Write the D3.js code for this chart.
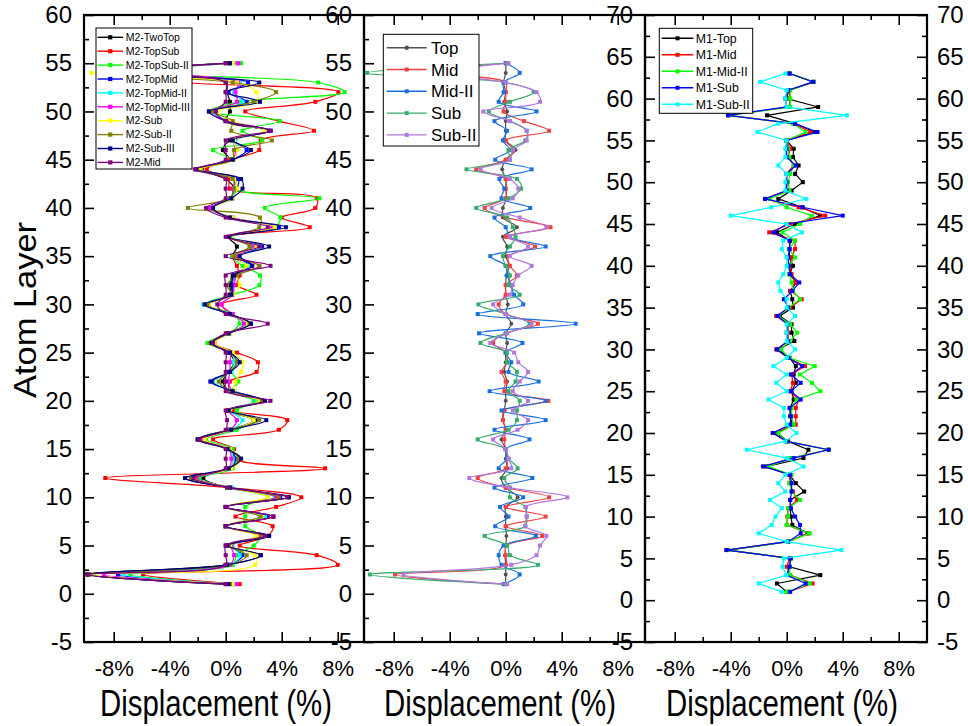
<!DOCTYPE html>
<html><head><meta charset="utf-8">
<script src="https://cdn.jsdelivr.net/npm/d3@7"></script>
<style>
body{margin:0;background:#fff}
text{font-family:"Liberation Sans",Arial,sans-serif}
</style>
</head><body>
<svg id="c" width="968" height="726"></svg>
<script>
// ---------- DATA ----------
const layersA = d3.range(1, 56);   // panels 1 & 2: atom layers 1..55
const layersB = d3.range(1, 64);   // panel 3: atom layers 1..63

const p1Names = ["M2-TwoTop","M2-TopSub","M2-TopSub-II","M2-TopMid","M2-TopMid-II","M2-TopMid-III","M2-Sub","M2-Sub-II","M2-Sub-III","M2-Mid"];
const p1TwoTop = [0.0,-9.8,0.0,2.5,0.0,3.1,0.0,2.5,0.0,4.5, 0.1,-1.6,0.1,1.0,0.1,-2.0,0.2,2.2,0.1,2.6, 0.3,-0.2,0.2,0.6,0.2,-1.1,0.1,1.8,0.2,-1.2, 0.3,0.3,0.5,1.6,0.5,0.8,0.2,3.6,0.3,-1.0, 0.3,0.6,0.0,-1.7,0.3,-0.2,0.3,3.0,0.0,0.3, 0.3,0.1,0.0,-8.5,0.0];
const p1TopSub = [1.0,-5.9,8.0,6.5,1.0,3.0,3.35,0.7,3.6,5.4, 0.3,-8.6,7.1,0.6,0.6,-0.9,3.8,4.4,0.5,2.5, 0.3,0.3,2.2,2.3,0.8,-0.8,0.2,1.5,0.4,-0.3, 2.2,0.8,1.0,0.8,0.5,1.9,0.2,6.0,4.0,6.4, 6.5,0.3,0.2,-1.35,0.3,2.4,2.5,6.3,3.8,1.4, 6.4,8.05,-3.0,-8.5,0.8];
const p1TopSubII = [0.7,-6.8,0.5,0.8,2.0,2.5,1.4,1.4,1.4,3.0, 0.2,-1.9,0.5,0.6,0.5,-1.4,0.8,2.0,0.8,2.0, 0.4,0.9,0.4,0.6,0.4,-1.3,0.2,1.0,0.5,-1.5, 0.5,2.4,2.45,1.2,0.5,1.8,0.4,3.5,3.9,2.8, 6.7,0.6,0.8,-2.0,0.5,-0.9,2.6,1.2,3.85,-1.2, 1.0,8.5,6.6,-8.5,1.1];
const p1TopMid = [0.5,-7.7,0.2,1.2,0.3,2.6,0.0,3.0,0.0,3.9, 0.4,-2.9,0.3,0.7,0.2,-1.8,0.3,2.0,0.2,2.6, 0.6,-1.1,0.3,0.8,0.3,-1.0,0.2,1.5,0.3,-1.4, 0.4,0.5,0.6,1.8,0.7,2.6,0.3,3.8,0.4,-1.1, 0.5,0.8,0.9,-1.9,0.5,1.5,0.6,3.0,0.2,-0.9, 1.5,0.2,1.6,-8.5,0.3];
const p1TopMidII = [0.7,-7.3,0.3,1.0,0.5,2.5,0.1,2.8,0.1,3.5, 0.4,-2.2,0.3,0.5,0.3,-1.6,0.4,1.2,0.3,2.2, 0.6,-0.9,0.4,0.6,0.4,-1.0,0.3,1.5,0.4,-1.6, 0.5,0.6,0.7,1.6,0.6,2.4,0.4,3.5,0.5,-1.0, 0.5,0.6,0.5,-1.9,0.6,0.8,0.7,2.8,0.3,-1.0, 1.2,0.6,1.0,-8.5,0.8];
const p1TopMidIII = [0.8,-8.7,0.3,0.6,0.4,2.5,0.0,3.4,0.1,3.6, 0.3,-2.1,0.2,0.4,0.2,-1.7,0.3,0.8,0.2,2.5, 0.5,0.2,0.3,0.3,0.3,-1.0,0.3,1.3,0.5,-0.3, 0.5,0.6,0.8,2.4,0.8,2.0,0.4,3.3,0.5,-1.1, 0.4,0.5,0.6,-2.0,0.5,0.7,0.6,3.2,0.2,-1.2, 0.8,0.7,0.9,-8.5,0.9];
const p1Sub = [0.5,-9.5,2.1,2.1,0.3,2.2,0.0,2.6,0.0,3.0, 0.3,-2.3,0.4,1.1,0.3,-1.5,0.4,2.0,0.3,2.4, 0.6,0.7,1.1,1.2,0.5,-0.8,0.3,1.6,0.3,-1.2, 0.5,1.0,0.8,1.5,0.6,2.2,0.4,3.5,0.5,-0.9, 0.5,0.8,0.6,-1.8,0.6,0.8,0.6,2.8,0.4,-0.6, 2.2,2.2,0.8,-9.6,0.5];
const p1SubII = [0.3,-9.7,0.2,1.5,0.2,2.6,0.0,2.5,0.0,3.8, 0.3,-2.5,0.2,0.9,0.2,-1.9,0.3,2.4,0.2,2.6, 0.4,-0.5,0.3,0.8,0.3,-1.1,0.2,1.7,0.3,-1.3, 0.4,0.1,0.8,2.4,0.6,1.7,0.3,2.4,2.45,-2.7, 0.3,0.6,0.5,-2.1,0.5,0.6,3.3,0.4,0.5,-1.0, 2.0,3.6,0.5,-8.5,0.3];
const p1SubIII = [0.2,-9.9,0.1,2.5,0.1,3.1,0.0,3.4,0.0,4.5, 0.3,-2.9,0.2,1.1,0.1,-2.0,0.4,2.9,0.2,2.8, 0.5,-1.0,0.3,1.0,0.3,-1.0,0.2,1.8,0.3,-1.5, 0.4,0.4,0.6,1.9,1.0,3.1,0.2,4.3,0.3,-0.9, 0.4,1.2,1.1,-2.1,0.5,1.8,0.5,3.2,0.0,-1.2, 2.45,0.0,2.4,-8.5,0.3];
const p1Mid = [0.0,-9.9,0.0,0.0,0.0,2.8,0.0,3.4,0.0,4.4, 0.2,-2.3,0.0,0.0,0.0,-1.9,0.0,0.1,0.0,3.2, 0.0,0.0,0.0,0.0,0.0,-0.9,0.0,3.0,0.0,-0.6, 0.0,0.0,0.0,3.2,0.0,2.4,0.0,3.0,0.0,-1.4, 0.0,0.0,0.0,-2.2,0.0,0.0,0.0,3.2,0.0,-0.7, 0.0,0.0,0.0,-8.5,0.0];

const p2Names = ["Top","Mid","Mid-II","Sub","Sub-II"];
const p2Top = [0,0,0,-0.05,0,0.05,0,0,0,0.85, 0,-0.3,0.1,0,0,-0.3,0,-0.2,-0.1,0, 0,0.1,-0.1,0,0,0.1,0,0.4,0,0.15, 0,0,0.05,0.25,0,0.1,-0.2,0.8,-0.2,-0.2, 0.05,0,0,-0.25,0,0.7,0,0,0,0.1, -0.1,0,-0.15,0,0];
const p2Mid = [0,-7.9,0,0,0.05,2.6,0,2.85,0,3.1, 0,-2.0,0,0.1,0,-0.1,0,-0.2,-0.1,3.05, -0.1,0,-0.3,0.1,0,-0.9,0,2.3,0,-0.5, 0,0,0.8,0.3,0.2,2.1,0,3.2,0,-1.5, 0,0,0,-2.1,0,0.55,0,3.1,1.3,-0.15, 0,0,0,-5.0,0];
const p2MidII = [-0.15,1.0,-0.3,-0.5,-0.15,2.15,-0.75,0.2,-0.4,1.25, -0.8,1.9,-0.5,0.1,0,1.7,-0.8,2.85,-0.3,2.85, -1.15,2.35,0.2,0.4,0,1.2,-1.9,5.0,-2.0,1.25, 0.6,0.4,0.1,0,-1.1,2.85,0.3,0,-0.8,1.75, -0.3,-0.1,-0.45,1.85,-0.75,0.3,-0.2,0.1,-0.8,2.2, -0.5,-0.15,-0.15,1.0,0];
const p2Sub = [0.05,-9.7,2.3,0.3,0.1,-1.5,1.4,1.5,1.4,0.3, 0.3,-0.1,0.85,0.2,0,-2.0,0.2,0.8,0.8,1.0, 0.2,0.7,0.8,0.1,0.1,-1.8,0,1.7,0,-1.95, 1.0,0.2,0.3,0,-0.2,0.3,0.7,0.5,0.1,-2.1, 0.2,1.1,0.8,-2.8,0.3,0.2,1.4,1.5,0.3,-1.2, 0.3,2.0,0,-9.9,0.1];
const p2SubII = [0.1,-7.3,0.4,2.2,2.45,2.9,1.4,1.5,1.45,4.4, 0.25,-2.6,0.4,0.2,0,-0.9,0.85,1.6,0.5,1.6, 0.5,1.0,1.6,0.9,0.6,-1.1,0.1,1.85,0,-0.9, 0.3,0.5,0.9,1.85,0.3,1.6,0.3,2.9,1.0,-1.0, 0.5,0.9,0.3,-1.8,0.3,0.5,1.5,1.5,0.3,-1.6, 2.45,2.2,0,-5.0,0.2];

const p3Names = ["M1-Top","M1-Mid","M1-Mid-II","M1-Sub","M1-Sub-II"];
const p3Top = [0.0,-0.7,2.4,0.2,0.3,-4.2,0.1,1.5,0.4,0.3, 0.25,0.25,1.25,0.65,0.2,-1.4,1.2,1.55,0.1,-0.7, 0.4,0.25,0.25,0.5,0.35,0.65,0.5,0.65,0.2,-0.6, 0.55,0.35,0.35,-0.5,0.45,0.4,0.25,0.7,0.2,0.45, 0.2,0.2,0.25,-0.7,0.6,2.4,1.1,-0.6,0.35,1.15, 0.6,0.85,0.45,0.5,0.0,2.0,0.6,-1.4,2.25,0.0, 0.15,1.9,0.2];
const p3Mid = [0.1,1.85,0.25,0.0,0.2,-4.3,0.1,1.55,0.0,0.05, 0.1,0.75,0.45,0.2,0.2,-1.6,0.3,3.0,0.0,-0.95, 0.65,0.65,0.65,0.85,0.25,0.45,0.35,1.3,0.1,-0.75, 0.1,0.1,0.1,-0.75,0.25,1.07,0.3,0.6,0.35,0.2, 0.35,0.6,0.6,-1.25,0.25,2.75,0.85,-1.55,0.0,0.0, 0.0,0.5,0.1,0.25,0.0,1.7,0.5,-4.15,0.2,0.2, 0.2,1.95,0.2];
const p3MidII = [0.0,1.65,0.25,0.2,0.25,-4.2,0.1,1.65,0.0,0.1, 0.1,0.95,0.35,0.2,0.35,-1.3,0.3,3.0,0.0,-0.6, 0.5,0.35,0.35,0.7,2.4,1.8,0.95,2.0,0.15,-0.4, 0.2,0.75,0.25,-0.6,0.15,0.95,0.45,0.35,0.2,0.15, 0.6,0.15,0.6,-0.3,0.95,1.8,0.0,-1.2,0.2,0.1, 0.25,0.5,0.2,0.1,0.0,1.35,0.45,-4.1,0.25,0.25, 0.25,1.95,0.2];
const p3Sub = [0.25,1.35,0.0,0.2,0.25,-4.3,0.1,1.0,0.95,0.6, 0.3,0.25,0.35,0.35,0.25,-1.7,0.5,3.0,0.0,-1.0, 0.25,0.3,0.2,1.0,0.3,1.0,0.3,1.1,0.1,-0.7, 0.1,0.0,0.05,-0.65,0.1,-0.2,0.4,0.9,0.25,0.15, 0.1,0.2,0.2,-0.95,0.0,4.0,1.15,-1.55,0.0,0.0, 0.0,0.65,0.0,0.0,0.0,2.2,0.6,-4.2,0.0,-0.1, 0.1,1.9,0.2];
const p3SubII = [-0.35,-2.0,0.0,-0.3,-0.2,3.9,0.0,-2.0,-1.07,-0.8, -0.35,-1.2,-0.1,-0.6,-0.1,1.2,0.0,-2.85,-0.1,0.7, 0.0,-0.2,-0.2,-1.3,0.0,-0.75,0.0,-0.95,0.0,0.6, 0.0,0.0,0.0,0.6,0.0,0.0,-0.45,-0.6,-0.25,0.0, 0.0,-0.35,-0.25,1.1,0.0,-4.0,-1.1,1.4,-0.1,-0.1, 0.0,-0.6,-0.1,-0.1,0.0,-2.1,-0.6,4.3,0.0,-0.1, 0.0,-1.9,-0.1];

const xTickMajor = [-8,-4,0,4,8];
const xTickMinor = [-6,-2,2,6];
const yTicksA = d3.range(-5, 61, 5);
const yTicksB = d3.range(-5, 71, 5);

const p1Colors = ["#000000","#ff0000","#00ff00","#0000ff","#00ffff","#ff00ff","#ffff00","#808000","#000080","#800080"];
const p2Colors = ["#515151","#F14040","#1A6FDF","#37AD6B","#B177DE"];
const p3Colors = ["#000000","#ff0000","#00ff00","#0000ff","#00ffff"];

// ---------- DRAW ----------
const svg = d3.select("#c");
svg.append("rect").attr("width",968).attr("height",726).attr("fill","#fff");
const yTop = 15, yBot = 642;

const panels = [
  {x0:84, x1:364, ymax:60, layers:layersA, names:p1Names, colors:p1Colors,
   series:[p1TwoTop,p1TopSub,p1TopSubII,p1TopMid,p1TopMidII,p1TopMidIII,p1Sub,p1SubII,p1SubIII,p1Mid],
   curve:d3.curveCatmullRom.alpha(0.5), yt:yTicksA, right:false, title:216,
   leg:{x:96,y:28,w:96,h:141,y0:37.3,dy:13.9,l0:97.5,l1:123,tx:125.7,fs:10.5,ms:4.2}},
  {x0:364, x1:645, ymax:60, layers:layersA, names:p2Names, colors:p2Colors,
   series:[p2Top,p2Mid,p2MidII,p2Sub,p2SubII],
   curve:d3.curveCatmullRom.alpha(0.5), yt:yTicksA, right:false, title:500,
   leg:{x:383.3,y:34.3,w:95.7,h:111.7,y0:47.7,dy:21.8,l0:386.7,l1:426.7,tx:431,fs:17,ms:4}},
  {x0:645, x1:927, ymax:70, layers:layersB, names:p3Names, colors:p3Colors,
   series:[p3Top,p3Mid,p3MidII,p3Sub,p3SubII],
   curve:d3.curveLinear, yt:yTicksB, right:true, title:782,
   leg:{x:659.3,y:28.3,w:93.4,h:85,y0:38.3,dy:16.5,l0:661.7,l1:693.3,tx:695.7,fs:12.3,ms:4}}
];

const plain = d => String(d);

panels.forEach((p, pi) => {
  const w = p.x1 - p.x0;
  const x = d3.scaleLinear().domain([-141.7/14, (w-141.7)/14]).range([p.x0, p.x1]);
  const y = d3.scaleLinear().domain([-5, p.ymax]).range([yBot, yTop]);
  const g = svg.append("g");
  const clipId = "clip"+pi;
  svg.append("clipPath").attr("id",clipId).append("rect")
     .attr("x",p.x0).attr("y",yTop).attr("width",w).attr("height",yBot-yTop);
  const data = g.append("g").attr("clip-path","url(#"+clipId+")");
  p.series.forEach((vals, si) => {
    const pts = p.layers.map((l,i)=>({l:l, v:vals[i]}));
    const line = d3.line().x(d=>x(d.v)).y(d=>y(d.l)).curve(p.curve);
    data.append("path").attr("d", line(pts)).attr("fill","none")
      .attr("stroke", p.colors[si]).attr("stroke-width", 1.2);
    data.selectAll(null).data(pts).enter().append(pi===1&&si===0?"circle":"rect")
      .each(function(d){
        const s = d3.select(this);
        if (this.tagName==="circle") s.attr("cx",x(d.v)).attr("cy",y(d.l)).attr("r",2);
        else s.attr("x",x(d.v)-2).attr("y",y(d.l)-2).attr("width",4).attr("height",4);
      })
      .attr("fill", p.colors[si]);
  });

  // axes
  const ax = g.append("g").attr("class","axes");
  const bottomMaj = d3.axisBottom(x).tickValues(xTickMajor).tickSize(-10).tickPadding(18).tickFormat(d=>String(d)+"%");
  const bottomMin = d3.axisBottom(x).tickValues(xTickMinor).tickSize(-5).tickFormat("");
  const topMaj = d3.axisTop(x).tickValues(xTickMajor).tickSize(-10).tickFormat("");
  const topMin = d3.axisTop(x).tickValues(xTickMinor).tickSize(-5).tickFormat("");
  const minY = d3.range(-2.5, p.ymax, 5);
  const leftMaj = d3.axisLeft(y).tickValues(p.yt).tickSize(-10).tickPadding(12).tickFormat(plain);
  const leftMin = d3.axisLeft(y).tickValues(minY).tickSize(-5).tickFormat("");
  const gB1 = ax.append("g").attr("transform",`translate(0,${yBot})`).call(bottomMaj);
  const gB2 = ax.append("g").attr("transform",`translate(0,${yBot})`).call(bottomMin);
  const gT1 = ax.append("g").attr("transform",`translate(0,${yTop})`).call(topMaj);
  const gT2 = ax.append("g").attr("transform",`translate(0,${yTop})`).call(topMin);
  const gL1 = ax.append("g").attr("transform",`translate(${p.x0},0)`).call(leftMaj);
  const gL2 = ax.append("g").attr("transform",`translate(${p.x0},0)`).call(leftMin);
  const groups = [gB1,gB2,gT1,gT2,gL1,gL2];
  if (p.right) {
    const rightMaj = d3.axisRight(y).tickValues(p.yt).tickSize(-10).tickPadding(10).tickFormat(plain);
    const rightMin = d3.axisRight(y).tickValues(minY).tickSize(-5).tickFormat("");
    groups.push(ax.append("g").attr("transform",`translate(${p.x1},0)`).call(rightMaj));
    groups.push(ax.append("g").attr("transform",`translate(${p.x1},0)`).call(rightMin));
  }
  groups.forEach(gg => {
    gg.select(".domain").remove();
    gg.selectAll(".tick line").attr("stroke","#000").attr("stroke-width",1.6);
    gg.selectAll(".tick text").attr("font-size", 24).attr("fill","#000")
      .style("font-family","'Liberation Sans',Arial,sans-serif");
  });
  gB1.selectAll(".tick text").attr("font-size",22);
  // frame
  ax.append("rect").attr("x",p.x0).attr("y",yTop).attr("width",w).attr("height",yBot-yTop)
    .attr("fill","none").attr("stroke","#000").attr("stroke-width",2.2);

  // x title
  svg.append("text").attr("x",p.title).attr("y",716).attr("text-anchor","middle")
    .attr("font-size",36).attr("textLength",232).attr("lengthAdjust","spacingAndGlyphs")
    .text("Displacement (%)");

  // legend
  const L = p.leg;
  const lg = svg.append("g");
  lg.append("rect").attr("x",L.x).attr("y",L.y).attr("width",L.w).attr("height",L.h)
    .attr("fill","#fff").attr("stroke","#000").attr("stroke-width",1);
  p.names.forEach((n,i)=>{
    const yy = L.y0 + i*L.dy;
    lg.append("line").attr("x1",L.l0).attr("x2",L.l1).attr("y1",yy).attr("y2",yy)
      .attr("stroke",p.colors[i]).attr("stroke-width",1.4);
    const mx = (L.l0+L.l1)/2;
    if (pi===1 && i===0) lg.append("circle").attr("cx",mx).attr("cy",yy).attr("r",2.2).attr("fill",p.colors[i]);
    else lg.append("rect").attr("x",mx-L.ms/2).attr("y",yy-L.ms/2).attr("width",L.ms).attr("height",L.ms).attr("fill",p.colors[i]);
    lg.append("text").attr("x",L.tx).attr("y",yy).attr("dy","0.36em").attr("font-size",L.fs).text(n);
  });
});

// y title
svg.append("text").attr("transform","translate(36,310) rotate(-90)").attr("text-anchor","middle")
  .attr("font-size",32).attr("textLength",176).attr("lengthAdjust","spacingAndGlyphs").text("Atom Layer");
</script>
</body></html>
